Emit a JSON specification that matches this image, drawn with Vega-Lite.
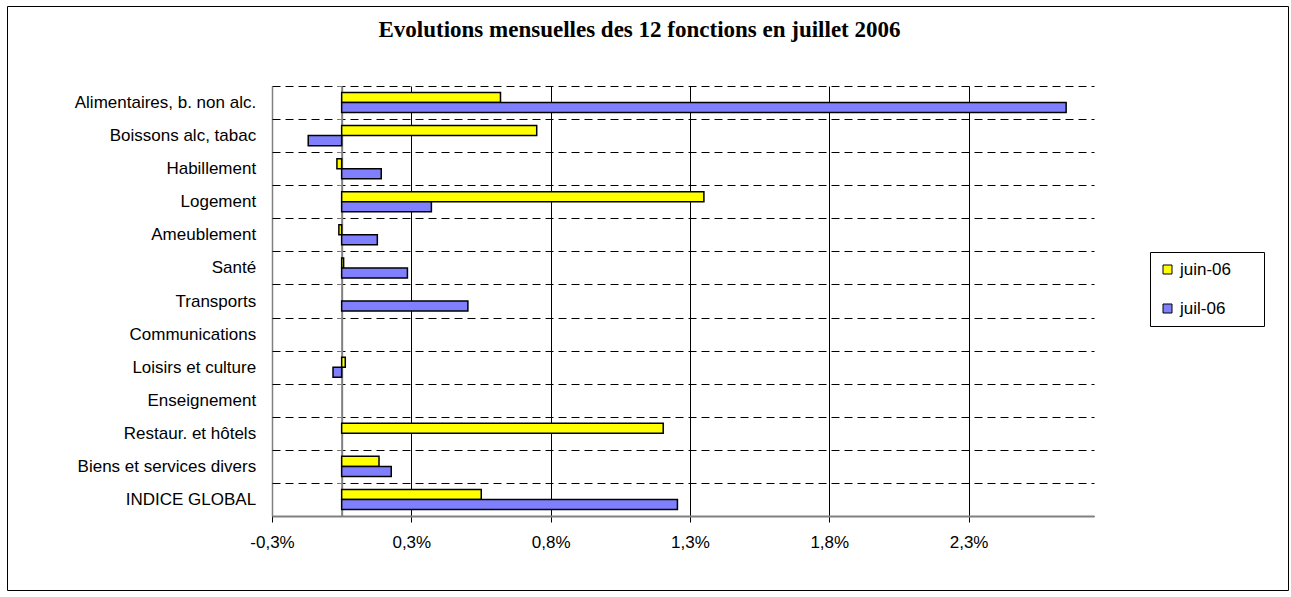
{
  "$schema": "https://vega.github.io/schema/vega-lite/v6.json",
  "width": 1281,
  "height": 584,
  "autosize": {"type": "none"},
  "padding": {"left": 7, "top": 6, "right": 3, "bottom": 7},
  "background": "white",
  "title": {
    "text": "Evolutions mensuelles des 12 fonctions en juillet 2006",
    "font": "Liberation Serif",
    "fontSize": 23,
    "fontWeight": "bold",
    "color": "black",
    "anchor": "middle",
    "offset": -45,
    "dx": -8
  },
  "config": {
    "font": "Liberation Sans",
    "view": {"stroke": "black", "strokeWidth": 1, "fill": "white"}
  },
  "data": {
    "values": [
      {"fonction": "Alimentaires, b. non alc.", "serie": "juin-06", "value": 0.57},
      {"fonction": "Alimentaires, b. non alc.", "serie": "juil-06", "value": 2.60},
      {"fonction": "Boissons alc, tabac", "serie": "juin-06", "value": 0.70},
      {"fonction": "Boissons alc, tabac", "serie": "juil-06", "value": -0.12},
      {"fonction": "Habillement", "serie": "juin-06", "value": -0.017},
      {"fonction": "Habillement", "serie": "juil-06", "value": 0.142},
      {"fonction": "Logement", "serie": "juin-06", "value": 1.30},
      {"fonction": "Logement", "serie": "juil-06", "value": 0.322},
      {"fonction": "Ameublement", "serie": "juin-06", "value": -0.01},
      {"fonction": "Ameublement", "serie": "juil-06", "value": 0.128},
      {"fonction": "Santé", "serie": "juin-06", "value": 0.007},
      {"fonction": "Santé", "serie": "juil-06", "value": 0.236},
      {"fonction": "Transports", "serie": "juin-06", "value": 0},
      {"fonction": "Transports", "serie": "juil-06", "value": 0.453},
      {"fonction": "Communications", "serie": "juin-06", "value": 0},
      {"fonction": "Communications", "serie": "juil-06", "value": 0},
      {"fonction": "Loisirs et culture", "serie": "juin-06", "value": 0.013},
      {"fonction": "Loisirs et culture", "serie": "juil-06", "value": -0.031},
      {"fonction": "Enseignement", "serie": "juin-06", "value": 0},
      {"fonction": "Enseignement", "serie": "juil-06", "value": 0},
      {"fonction": "Restaur. et hôtels", "serie": "juin-06", "value": 1.154},
      {"fonction": "Restaur. et hôtels", "serie": "juil-06", "value": 0},
      {"fonction": "Biens et services divers", "serie": "juin-06", "value": 0.134},
      {"fonction": "Biens et services divers", "serie": "juil-06", "value": 0.178},
      {"fonction": "INDICE GLOBAL", "serie": "juin-06", "value": 0.501},
      {"fonction": "INDICE GLOBAL", "serie": "juil-06", "value": 1.205}
    ]
  },
  "encoding": {
    "y": {
      "field": "fonction",
      "type": "nominal",
      "scale": {
        "domain": ["Alimentaires, b. non alc.", "Boissons alc, tabac", "Habillement", "Logement", "Ameublement", "Santé", "Transports", "Communications", "Loisirs et culture", "Enseignement", "Restaur. et hôtels", "Biens et services divers", "INDICE GLOBAL"],
        "range": [80, 510],
        "paddingInner": 0,
        "paddingOuter": 0
      },
      "axis": {
        "orient": "left",
        "offset": -334.66,
        "title": null,
        "labelFontSize": 17,
        "labelColor": "black",
        "labelPadding": 82,
        "labelLimit": 300,
        "tickSize": 4,
        "tickColor": "#808080",
        "tickBand": "extent",
        "domainColor": "#808080",
        "domainWidth": 2,
        "grid": true,
        "gridColor": "black",
        "gridDash": [8, 5],
        "gridWidth": 1
      }
    },
    "yOffset": {
      "field": "serie",
      "type": "nominal",
      "scale": {"domain": ["juin-06", "juil-06"], "paddingInner": 0, "paddingOuter": 0.65}
    },
    "color": {
      "field": "serie",
      "type": "nominal",
      "scale": {"domain": ["juin-06", "juil-06"], "range": ["#FFFF00", "#8080FF"]},
      "legend": {
        "orient": "none",
        "legendX": 1143,
        "legendY": 246,
        "title": null,
        "strokeColor": "black",
        "fillColor": "white",
        "padding": 9,
        "symbolType": "square",
        "symbolSize": 81,
        "symbolStrokeColor": "black",
        "symbolStrokeWidth": 1,
        "symbolOpacity": 1,
        "labelFontSize": 17,
        "labelColor": "black",
        "labelOffset": 4,
        "rowPadding": 21,
        "labelExpr": "datum.label + '\u00a0\u00a0\u00a0\u00a0\u00a0\u200b'"
      }
    },
    "strokeOpacity": {
      "condition": {"test": "datum.value === 0", "value": 0},
      "value": 1
    }
  },
  "layer": [
    {
      "transform": [{"filter": "datum.serie === 'juin-06'"}],
      "mark": {"type": "bar", "stroke": "black", "strokeWidth": 1.5, "opacity": 1},
      "encoding": {
        "x": {
          "field": "value",
          "type": "quantitative",
          "scale": {"domain": [-0.25, 2.7], "range": [265, 1087], "nice": false, "zero": false},
          "axis": {
            "orient": "bottom",
            "offset": -74,
            "title": null,
            "grid": false,
            "values": [-0.25, 0.25, 0.75, 1.25, 1.75, 2.25],
            "labelExpr": "(datum.value < 0 ? '-' : '') + replace(format(abs(datum.value), '.1f'), '.', ',') + '%'",
            "labelFontSize": 17,
            "labelColor": "black",
            "labelPadding": 12,
            "labelFlush": false,
            "labelOverlap": false,
            "tickSize": 6,
            "tickColor": "black",
            "domainColor": "#808080",
            "domainWidth": 2
          }
        },
        "x2": {"datum": 0}
      }
    },
    {
      "transform": [{"filter": "datum.serie === 'juil-06'"}],
      "mark": {"type": "bar", "stroke": "black", "strokeWidth": 1.5, "opacity": 1},
      "encoding": {
        "x": {
          "field": "value",
          "type": "quantitative",
          "scale": {"domain": [-0.25, 2.7], "range": [265, 1087], "nice": false, "zero": false},
          "axis": {
            "orient": "top",
            "title": null,
            "grid": true,
            "labels": false,
            "ticks": false,
            "domain": false,
            "values": [-0.25, 0.25, 0.75, 1.25, 1.75, 2.25],
            "gridColor": {"condition": {"test": "datum.value < 0", "value": "#808080"}, "value": "black"},
            "gridWidth": {"condition": {"test": "datum.value < 0", "value": 1.5}, "value": 1}
          }
        },
        "x2": {"datum": 0}
      }
    }
  ],
  "resolve": {"axis": {"x": "independent"}}
}
